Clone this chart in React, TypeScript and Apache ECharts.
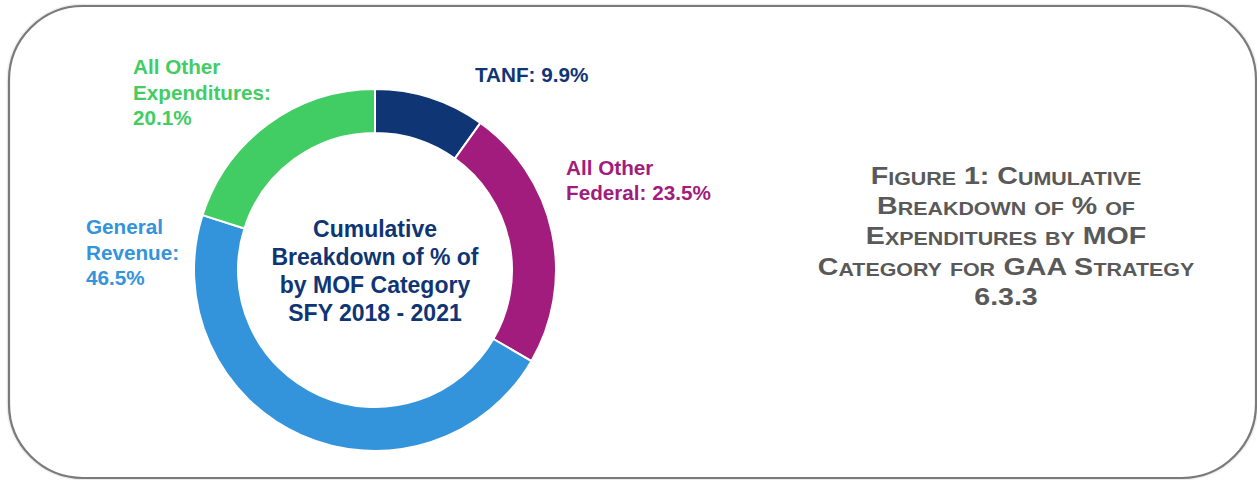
import React, { useEffect, useRef } from "react";
import * as echarts from "echarts";

const categories = ["TANF", "All Other Federal", "General Revenue", "All Other Expenditures"];
const labelNames = ["TANF", "All Other\nFederal", "General\nRevenue", "All Other\nExpenditures"];
const labelSeparators = [" ", " ", "\n", "\n"];
const values = [9.9, 23.5, 46.5, 20.1];
const colors = ["#0f3574", "#a21c7d", "#3494db", "#42cd64"];
const centerLines = ["Cumulative", "Breakdown of % of", "by MOF Category", "SFY 2018 - 2021"];
const titleLines = [
  "Figure 1: Cumulative",
  "Breakdown of % of",
  "Expenditures by MOF",
  "Category for GAA Strategy",
  "6.3.3",
];

const FONT = "'Liberation Sans', Arial, Helvetica, sans-serif";
const labelAnchors = [
  [475, 74],
  [566, 180],
  [86, 252],
  [133, 92],
];

function smallCaps(s: string): string {
  let out = "";
  const re = /([a-z]+)|([^a-z]+)/g;
  let m: RegExpExecArray | null;
  while ((m = re.exec(s))) {
    if (m[1]) out += "{s|" + m[1].toUpperCase() + "}";
    else out += "{b|" + m[2] + "}";
  }
  return out;
}

export default function App() {
  const ref = useRef<HTMLDivElement>(null);
  useEffect(() => {
    if (!ref.current) return;
    const chart = echarts.init(ref.current, null, { renderer: "svg" });
    const graphics: any[] = [
      {
        type: "rect",
        shape: { x: 9, y: 6, width: 1247, height: 472, r: 74 },
        style: { fill: "#fff", stroke: "#7a7a7a", lineWidth: 2.2, shadowBlur: 2, shadowColor: "rgba(0,0,0,0.25)" },
        z: -10,
      },
    ];
    categories.forEach((_, i) => {
      graphics.push({
        type: "text",
        x: labelAnchors[i][0],
        y: labelAnchors[i][1],
        style: {
          text: labelNames[i] + ":" + labelSeparators[i] + values[i].toFixed(1) + "%",
          fill: colors[i],
          font: `bold 20.7px ${FONT}`,
          lineHeight: 25.5,
          textAlign: "left",
          textVerticalAlign: "middle",
        },
      });
    });
    graphics.push({
      type: "text",
      x: 375,
      y: 271,
      style: {
        text: centerLines.join("\n"),
        fill: "#0f3574",
        font: `bold 23px ${FONT}`,
        lineHeight: 28.2,
        textAlign: "center",
        textVerticalAlign: "middle",
      },
    });
    titleLines.forEach((t, i) => {
      graphics.push({
        type: "text",
        x: 1006,
        y: 174.5 + i * 30.3,
        scaleX: 1.19,
        style: {
          text: smallCaps(t),
          textAlign: "center",
          textVerticalAlign: "middle",
          rich: {
            b: { fontSize: 24, fontWeight: "bold", fontFamily: FONT, fill: "#595959", lineHeight: 26, verticalAlign: "bottom" },
            s: { fontSize: 18, fontWeight: "bold", fontFamily: FONT, fill: "#595959", lineHeight: 22, verticalAlign: "bottom" },
          },
        },
      });
    });
    chart.setOption({
      animation: false,
      graphic: { elements: graphics },
      series: [
        {
          type: "pie",
          center: [375, 270],
          radius: [137, 181],
          startAngle: 90,
          clockwise: true,
          label: { show: false },
          labelLine: { show: false },
          silent: true,
          itemStyle: { borderColor: "#fff", borderWidth: 2 },
          data: categories.map((c, i) => ({ name: c, value: values[i], itemStyle: { color: colors[i] } })),
          z: 5,
        },
      ],
    });
    return () => chart.dispose();
  }, []);
  return <div ref={ref} style={{ position: "absolute", left: 0, top: 0, width: 1257, height: 480, background: "#fff" }} />;
}
